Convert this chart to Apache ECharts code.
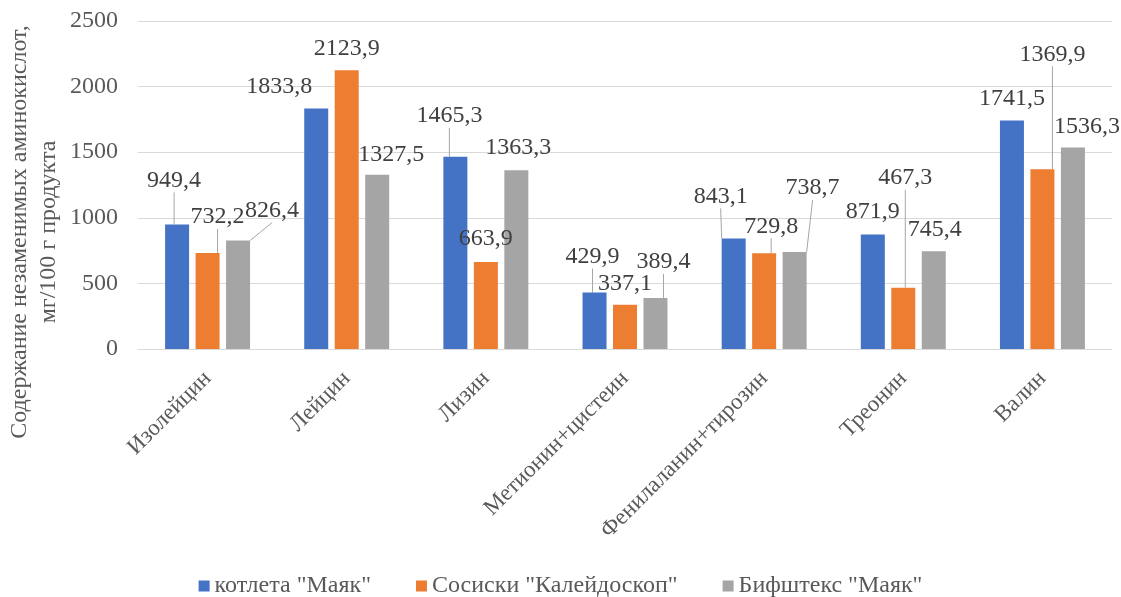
<!DOCTYPE html>
<html>
<head>
<meta charset="utf-8">
<script src="https://cdn.jsdelivr.net/npm/echarts@6/dist/echarts.min.js"></script>
<style>
  html, body { margin: 0; padding: 0; background: #fff; }
  #chart { width: 1121px; height: 597px; }
</style>
</head>
<body>
<div id="chart"></div>
<script>
// Amino acid categories
const categories = ['Изолейцин', 'Лейцин', 'Лизин', 'Метионин+цистеин', 'Фенилаланин+тирозин', 'Треонин', 'Валин'];

// Series names
const seriesNames = ['котлета "Маяк"', 'Сосиски "Калейдоскоп"', 'Бифштекс "Маяк"'];

// Content, mg per 100 g of product
const kotleta = [949.4, 1833.8, 1465.3, 429.9, 843.1, 871.9, 1741.5];
const sosiski = [732.2, 2123.9, 663.9, 337.1, 729.8, 467.3, 1369.9];
const bifshteks = [826.4, 1327.5, 1363.3, 389.4, 738.7, 745.4, 1536.3];

// Y axis ticks
const yMin = 0, yMax = 2500, yStep = 500;

// Label placement: [dx, dy] of label centre relative to the bar's top centre
const labelShift = [
  [[-3, -44], [-37, -22], [-6, -41], [-2, -36], [-13, -42], [0, -23], [0, -22]],
  [[10, -36], [0, -22], [0, -23], [0, -21], [7, -27], [2, -110], [10, -115]],
  [[34, -30], [14, -20], [2, -22], [8, -36], [18, -64], [1, -22], [14, -21]]
];
// Which labels get a leader line back to the bar
const leader = [
  [1, 0, 1, 1, 1, 0, 0],
  [1, 0, 0, 0, 1, 1, 1],
  [1, 0, 0, 1, 1, 0, 0]
];

const colors = ['#4472C4', '#ED7D31', '#A5A5A5'];
const textColor = '#595959';
const font = '"Liberation Serif", "Times New Roman", serif';

const fmt = v => String(v).replace('.', ',');

function buildSeries(name, values, si) {
  return {
    name: name,
    type: 'bar',
    barWidth: 24,
    barGap: '27%',
    itemStyle: { color: colors[si] },
    data: values.map((v, i) => ({
      value: v,
      labelLine: { show: !!leader[si][i] }
    })),
    label: {
      show: true,
      position: 'top',
      formatter: p => fmt(p.value),
      color: '#404040',
      fontFamily: font,
      fontSize: 24
    },
    labelLine: {
      show: true,
      lineStyle: { color: '#A6A6A6', width: 1 }
    },
    labelLayout: function (params) {
      const s = labelShift[si][params.dataIndex];
      const r = params.rect;
      const top = Math.min(r.y, r.y + r.height);
      const bx = r.x + r.width / 2;
      const cx = bx + s[0];
      const cy = top + s[1];
      const out = { x: cx, y: cy, align: 'center', verticalAlign: 'middle' };
      if (leader[si][params.dataIndex]) {
        out.labelLinePoints = [[cx, cy + 16], [bx, top]];
      }
      return out;
    }
  };
}

const chart = echarts.init(document.getElementById('chart'), null, { renderer: 'canvas' });
chart.setOption({
  animation: false,
  backgroundColor: '#ffffff',
  textStyle: { fontFamily: font },
  grid: {
    left: 138, right: 9, top: 21, bottom: 248,
    containLabel: false,
    outerBoundsMode: 'none'
  },
  legend: {
    left: 'center',
    top: 569,
    icon: 'rect',
    itemWidth: 11,
    itemHeight: 11,
    itemGap: 45,
    textStyle: { color: textColor, fontFamily: font, fontSize: 24 },
    data: seriesNames
  },
  xAxis: {
    type: 'category',
    data: categories,
    axisLine: { lineStyle: { color: '#D9D9D9', width: 1 } },
    axisTick: { show: false },
    axisLabel: {
      interval: 0,
      rotate: 45,
      margin: 26,
      color: textColor,
      fontFamily: font,
      fontSize: 23
    }
  },
  yAxis: {
    type: 'value',
    min: yMin,
    max: yMax,
    interval: yStep,
    axisLine: { show: false },
    axisTick: { show: false },
    splitLine: { lineStyle: { color: '#D9D9D9', width: 1 } },
    axisLabel: {
      margin: 20,
      color: textColor,
      fontFamily: font,
      fontSize: 24,
      formatter: v => String(v)
    }
  },
  graphic: [{
    type: 'text',
    x: 34,
    y: 232,
    rotation: Math.PI / 2,
    style: {
      text: 'Содержание незаменимых аминокислот,\nмг/100 г продукта',
      fill: textColor,
      font: '24px ' + font,
      align: 'center',
      verticalAlign: 'middle',
      lineHeight: 29
    }
  }],
  series: [
    buildSeries(seriesNames[0], kotleta, 0),
    buildSeries(seriesNames[1], sosiski, 1),
    buildSeries(seriesNames[2], bifshteks, 2)
  ]
});
</script>
</body>
</html>
